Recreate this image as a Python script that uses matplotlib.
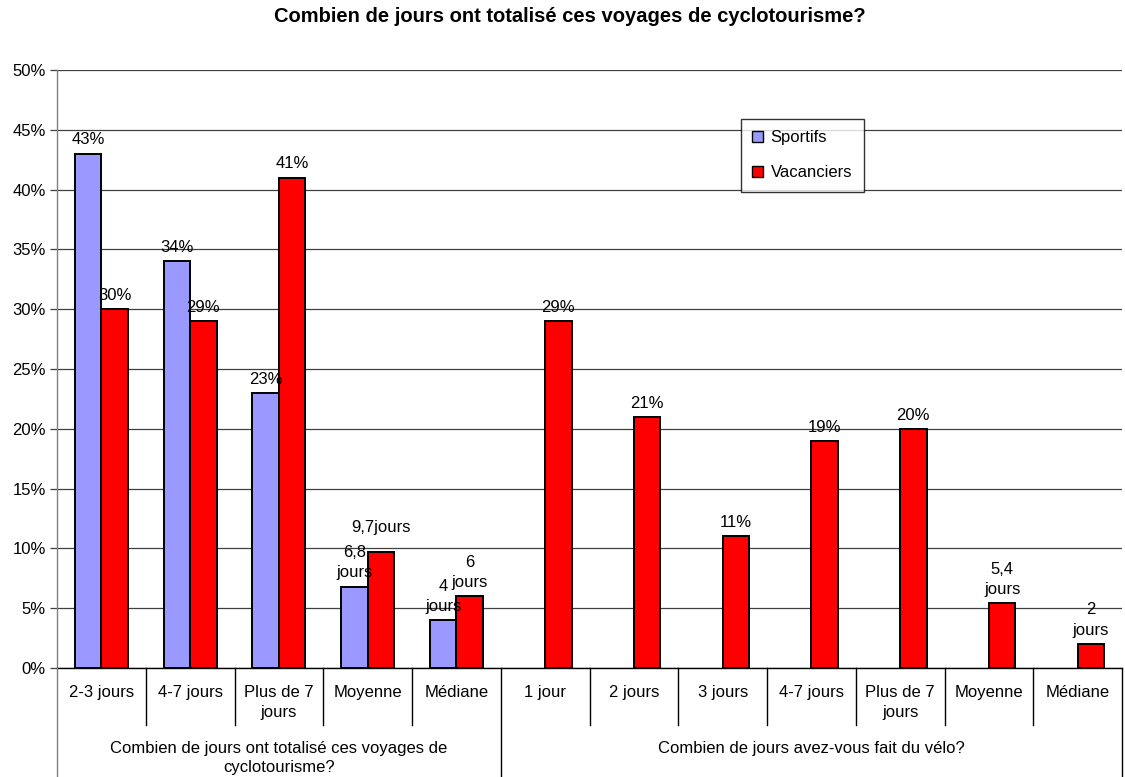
import matplotlib
matplotlib.use("Agg")
import matplotlib.pyplot as plt
import numpy as np
from matplotlib.patches import Patch
from matplotlib.lines import Line2D
from matplotlib import transforms

plt.rcParams['font.family'] = ['Liberation Sans', 'DejaVu Sans']

title = "Combien de jours ont totalisé ces voyages de cyclotourisme?"
categories = ["2-3 jours", "4-7 jours", "Plus de 7\njours", "Moyenne", "Médiane",
              "1 jour", "2 jours", "3 jours", "4-7 jours", "Plus de 7\njours",
              "Moyenne", "Médiane"]
groups = ["Combien de jours ont totalisé ces voyages de\ncyclotourisme?",
          "Combien de jours avez-vous fait du vélo?"]
group_sizes = [5, 7]

sportifs = [43, 34, 23, 6.8, 4, np.nan, np.nan, np.nan, np.nan, np.nan, np.nan, np.nan]
vacanciers = [30, 29, 41, 9.7, 6, 29, 21, 11, 19, 20, 5.4, 2]
sportifs_labels = ["43%", "34%", "23%", "6,8\njours", "4\njours",
                   "", "", "", "", "", "", ""]
vacanciers_labels = ["30%", "29%", "41%", "9,7jours", "6\njours",
                     "29%", "21%", "11%", "19%", "20%", "5,4\njours", "2\njours"]

W, H = 1125, 777
fig = plt.figure(figsize=(W / 100, H / 100), dpi=100)
ax = fig.add_axes([57 / W, 1 - 668 / H, (1122 - 57) / W, (668 - 70) / H])

n = len(categories)
x = np.arange(n)
bw = 0.298
ax.bar(x - bw / 2, sportifs, bw, color="#9999FF", edgecolor="black", linewidth=1.4,
       label="Sportifs", zorder=3)
ax.bar(x + bw / 2, vacanciers, bw, color="#FF0000", edgecolor="black", linewidth=1.4,
       label="Vacanciers", zorder=3)

fs = 12
# extra lift (points) for the single-line average label of the first group
extra_lift = {3: 8}
for xi, v, lab in zip(x, sportifs, sportifs_labels):
    if lab and not np.isnan(v):
        ax.annotate(lab, (xi - bw / 2, v), xytext=(0, 4.5), textcoords="offset points",
                    ha="center", va="bottom", fontsize=fs, linespacing=1.45, zorder=5)
for i, (xi, v, lab) in enumerate(zip(x, vacanciers, vacanciers_labels)):
    ax.annotate(lab, (xi + bw / 2, v), xytext=(0, 4.5 + extra_lift.get(i, 0)),
                textcoords="offset points", ha="center", va="bottom", fontsize=fs,
                linespacing=1.45, zorder=5)

ax.set_xlim(-0.5, n - 0.5)
ax.set_ylim(0, 50)
yt = np.arange(0, 51, 5)
ax.set_yticks(yt)
ax.set_yticklabels([f"{v}%" for v in yt], fontsize=fs)
ax.yaxis.grid(True, color="#404040", linewidth=0.9, zorder=0)
ax.tick_params(axis="y", direction="out", length=5, width=0.9, color="#404040", pad=3)
ax.set_xticks([])
for s in ["top", "right"]:
    ax.spines[s].set_visible(False)
ax.spines["left"].set_color("#808080")
ax.spines["left"].set_linewidth(1.0)
ax.spines["bottom"].set_color("black")
ax.spines["bottom"].set_linewidth(1.0)

# Multi-level category axis drawn below the plot area
tr = transforms.blended_transform_factory(ax.transData, fig.transFigure)
def fy(py):
    return 1 - py / H

for xi, c in zip(x, categories):
    ax.text(xi, fy(685), c, transform=tr, ha="center", va="top", fontsize=fs,
            linespacing=1.45, clip_on=False)

bounds = np.arange(-0.5, n, 1.0)
group_edges = np.concatenate([[0], np.cumsum(group_sizes)]) - 0.5
for b in bounds:
    if np.any(np.isclose(b, group_edges)):
        y_end = fy(777)
        col = "#808080" if np.isclose(b, -0.5) else "black"
    else:
        y_end = fy(725)
        col = "black"
    fig.add_artist(Line2D([b, b], [fy(668), y_end], transform=tr, color=col,
                          linewidth=1.0, clip_on=False))

for g, (a, b) in zip(groups, zip(group_edges[:-1], group_edges[1:])):
    ax.text((a + b) / 2, fy(741), g, transform=tr, ha="center", va="top",
            fontsize=fs, linespacing=1.3, clip_on=False)

fig.text(569.5 / W, fy(17), title, ha="center", va="center", fontsize=14.5,
         fontweight="bold")

handles = [Patch(facecolor="#9999FF", edgecolor="black", linewidth=1.0),
           Patch(facecolor="#FF0000", edgecolor="black", linewidth=1.0)]
leg = fig.legend(handles, ["Sportifs", "Vacanciers"], loc="upper left",
                 bbox_to_anchor=(741 / W, fy(119)), frameon=True, fancybox=False,
                 edgecolor="black", fontsize=fs, handlelength=0.65, handleheight=0.65,
                 handletextpad=0.45, labelspacing=1.2, borderpad=0.68,
                 borderaxespad=0)
leg.get_frame().set_linewidth(1.0)

fig.savefig("out.png", dpi=100)
